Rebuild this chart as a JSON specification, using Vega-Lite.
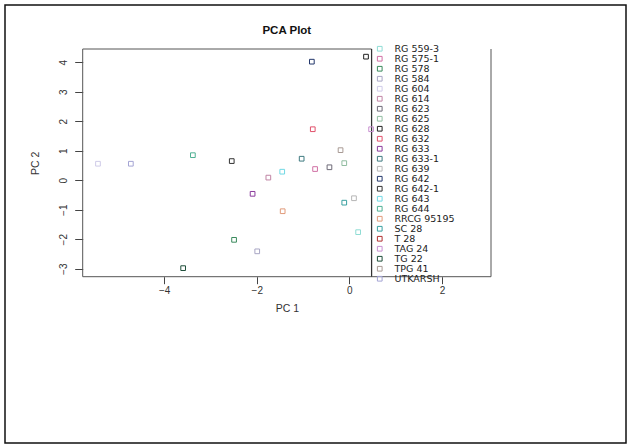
{
  "$schema": "https://vega.github.io/schema/vega-lite/v6.json",
  "width": 621,
  "height": 438,
  "autosize": "none",
  "padding": 5,
  "background": "white",
  "config": {
    "view": {"stroke": "#111111", "strokeWidth": 1.5},
    "font": "Liberation Sans"
  },
  "title": {
    "text": "PCA Plot",
    "font": "Liberation Sans",
    "fontSize": 11.5,
    "fontWeight": "bold",
    "color": "#111111",
    "anchor": "middle",
    "frame": "group",
    "dx": -28.7,
    "offset": -31.5
  },
  "layer": [
    {
      "data": {"values": [{}]},
      "mark": {"type": "rect", "fill": null, "stroke": "#555555", "strokeWidth": 1},
      "encoding": {
        "x": {"datum": -5.76, "type": "quantitative"},
        "x2": {"datum": 0.48},
        "y": {"datum": -3.27, "type": "quantitative"},
        "y2": {"datum": 4.45}
      }
    },
    {
      "data": {"values": [{}]},
      "mark": {"type": "rule", "color": "#333333", "strokeWidth": 1.2},
      "encoding": {
        "x": {"datum": 0.48, "type": "quantitative"},
        "y": {"datum": -3.27, "type": "quantitative"},
        "y2": {"datum": 4.45}
      }
    },
    {
      "data": {"values": [{}]},
      "mark": {"type": "rule", "color": "#555555", "strokeWidth": 1},
      "encoding": {
        "x": {"datum": 3.06, "type": "quantitative"},
        "y": {"datum": -3.27, "type": "quantitative"},
        "y2": {"datum": 4.45}
      }
    },
    {
      "data": {"values": [{}]},
      "mark": {"type": "rule", "color": "#555555", "strokeWidth": 1},
      "encoding": {
        "x": {"datum": 0.48, "type": "quantitative"},
        "x2": {"datum": 3.06},
        "y": {"datum": -3.27, "type": "quantitative"}
      }
    },
    {
      "data": {
        "values": [
          {"name": "RG 642", "pc1": -0.81, "pc2": 4.02},
          {"name": "RG 628", "pc1": 0.36, "pc2": 4.19},
          {"name": "RG 632", "pc1": -0.79, "pc2": 1.73},
          {"name": "TAG 24", "pc1": 0.47, "pc2": 1.73},
          {"name": "TPG 41", "pc1": -0.19, "pc2": 1.02},
          {"name": "RG 644", "pc1": -3.38, "pc2": 0.85},
          {"name": "RG 633-1", "pc1": -1.03, "pc2": 0.73},
          {"name": "RG 604", "pc1": -5.43, "pc2": 0.56},
          {"name": "UTKARSH", "pc1": -4.72, "pc2": 0.56},
          {"name": "RG 642-1", "pc1": -2.54, "pc2": 0.65},
          {"name": "RG 623", "pc1": -0.43, "pc2": 0.44},
          {"name": "RG 625", "pc1": -0.11, "pc2": 0.58},
          {"name": "RG 575-1", "pc1": -0.74, "pc2": 0.38},
          {"name": "RG 643", "pc1": -1.45, "pc2": 0.29},
          {"name": "RG 614", "pc1": -1.75, "pc2": 0.09},
          {"name": "RG 633", "pc1": -2.09, "pc2": -0.46},
          {"name": "RG 639", "pc1": 0.1, "pc2": -0.61},
          {"name": "SC 28", "pc1": -0.11, "pc2": -0.76},
          {"name": "RRCG 95195", "pc1": -1.44, "pc2": -1.05},
          {"name": "RG 559-3", "pc1": 0.19, "pc2": -1.76},
          {"name": "RG 578", "pc1": -2.49, "pc2": -2.02},
          {"name": "RG 584", "pc1": -1.99, "pc2": -2.41},
          {"name": "TG 22", "pc1": -3.59, "pc2": -2.98}
        ]
      },
      "mark": {"type": "point", "shape": "square", "filled": false, "size": 22, "strokeWidth": 1, "opacity": 1},
      "encoding": {
        "x": {
          "field": "pc1",
          "type": "quantitative",
          "scale": {"domain": [-5.76, 3.06], "range": [77.7, 486], "nice": false, "zero": false},
          "axis": {
            "title": "PC 1",
            "values": [-4, -2, 0, 2],
            "format": "d",
            "offset": -166.3,
            "domain": false,
            "grid": false,
            "tickSize": 7,
            "tickColor": "#444444",
            "labelFontSize": 10,
            "labelColor": "#333333",
            "labelPadding": 2,
            "labelFlush": false,
            "labelOverlap": false,
            "titleFontSize": 10.5,
            "titleFontWeight": "normal",
            "titleColor": "#333333",
            "titlePadding": 8
          }
        },
        "y": {
          "field": "pc2",
          "type": "quantitative",
          "scale": {"domain": [-3.27, 4.45], "range": [271.7, 44], "nice": false, "zero": false},
          "axis": {
            "title": "PC 2",
            "values": [-3, -2, -1, 0, 1, 2, 3, 4],
            "format": "d",
            "offset": -77.7,
            "domain": false,
            "grid": false,
            "tickSize": 8,
            "tickColor": "#444444",
            "labelFontSize": 10,
            "labelColor": "#333333",
            "labelAngle": 270,
            "labelAlign": "center",
            "labelBaseline": "bottom",
            "labelPadding": 6,
            "labelFlush": false,
            "labelOverlap": false,
            "titleFontSize": 10.5,
            "titleFontWeight": "normal",
            "titleColor": "#333333",
            "titlePadding": 18
          }
        },
        "stroke": {
          "field": "name",
          "type": "nominal",
          "scale": {
            "domain": ["RG 559-3", "RG 575-1", "RG 578", "RG 584", "RG 604", "RG 614", "RG 623", "RG 625", "RG 628", "RG 632", "RG 633", "RG 633-1", "RG 639", "RG 642", "RG 642-1", "RG 643", "RG 644", "RRCG 95195", "SC 28", "T 28", "TAG 24", "TG 22", "TPG 41", "UTKARSH"],
            "range": ["#8fdcd4", "#d070a4", "#3a8a5c", "#a8a6c4", "#cfcbe8", "#c084a4", "#6e6a78", "#90bca0", "#222222", "#e0506a", "#8a3c9c", "#3f7a80", "#b6b6b6", "#24386c", "#333333", "#70d8e4", "#50b094", "#e09a7a", "#3aa0a0", "#b03030", "#c890d0", "#1e4e3a", "#a89a94", "#a4a4d4"]
          },
          "legend": {
            "title": null,
            "orient": "none",
            "legendX": 370,
            "legendY": 37,
            "fillColor": null,
            "strokeColor": null,
            "padding": 2,
            "symbolType": "square",
            "symbolSize": 22,
            "symbolStrokeWidth": 1,
            "symbolOffset": -2,
            "labelFont": "DejaVu Sans",
            "labelFontSize": 9.5,
            "labelColor": "#222222",
            "labelOffset": 10,
            "rowPadding": -1
          }
        }
      }
    }
  ]
}
